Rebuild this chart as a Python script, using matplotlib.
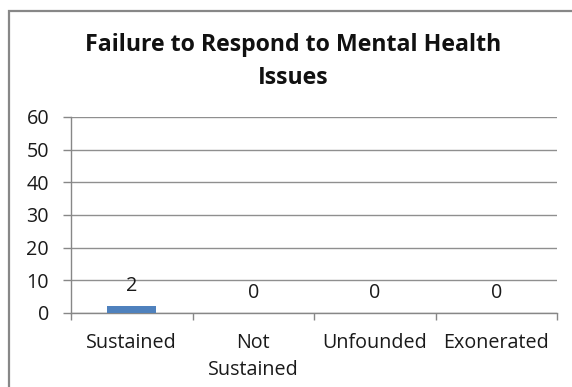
import matplotlib
matplotlib.use("Agg")
import matplotlib.pyplot as plt
from matplotlib.patches import Rectangle
from matplotlib.font_manager import FontProperties

categories = ["Sustained", "Not\nSustained", "Unfounded", "Exonerated"]
values = [2, 0, 0, 0]
yticks = [0, 10, 20, 30, 40, 50, 60]
title = "Failure to Respond to Mental Health\nIssues"

FAM = ['Open Sans', 'DejaVu Sans']
plt.rcParams['font.family'] = FAM
W, H = 572, 387
DPI = 100
fig = plt.figure(figsize=(W/DPI, H/DPI), dpi=DPI)
renderer = fig.canvas.get_renderer()

def fit_size(text, target_px, weight="normal"):
    fp = FontProperties(family=FAM, size=10, weight=weight)
    w, h, d = renderer.get_text_width_height_descent(text, fp, ismath=False)
    return 10 * target_px / w

def spacing_for(size, gap_px, weight="normal"):
    # matplotlib baseline distance = ls * (lp_h - lp_d) + lp_d
    fp = FontProperties(family=FAM, size=size, weight=weight)
    w, h, d = renderer.get_text_width_height_descent("lp", fp, ismath=False)
    return (gap_px - d) / (h - d)

px = 72 / DPI  # points per pixel
lab_fs = fit_size("Sustained", 91)
tit_fs = fit_size("Failure to Respond to Mental Health", 420, "bold")

# chart border
fig.patches.append(Rectangle((9/W, -0.2), 1.2, 1.2 - 11/H, transform=fig.transFigure,
                             fill=False, edgecolor="#878787", linewidth=1.6))

left, right, bottom, top = 71, 557, 313, 117
ax = fig.add_axes([left/W, 1 - bottom/H, (right-left)/W, (bottom-top)/H])
x = list(range(len(categories)))
ax.bar(x, values, width=0.4, color="#4F81BD", zorder=3)
for xi, v in zip(x, values):
    ax.annotate(str(v), (xi, v), xytext=(0, 15*px), textcoords="offset points",
                ha="center", va="baseline", fontsize=lab_fs, color="#1a1a1a")
ax.set_xlim(-0.5, len(categories) - 0.5)
ax.set_ylim(0, 60)
ax.set_yticks(yticks)
ax.set_yticklabels([str(t) for t in yticks], fontsize=lab_fs, color="#1a1a1a")
ax.set_xticks(x)
ax.set_xticklabels(categories, fontsize=lab_fs, color="#1a1a1a",
                   linespacing=spacing_for(lab_fs, 27), va="top")
ax.tick_params(axis="x", length=0, pad=20*px)
ax.set_xticks([i + 0.5 for i in range(-1, len(categories))], minor=True)
ax.tick_params(axis="x", which="minor", length=7*px, width=1, color="#878787",
               direction="out")
ax.tick_params(axis="y", length=8*px, width=1, color="#878787", pad=14*px)
ax.grid(axis="y", color="#8f8f8f", linewidth=1.0, zorder=0)
for s in ["top", "right"]:
    ax.spines[s].set_visible(False)
for s in ["left", "bottom"]:
    ax.spines[s].set_color("#878787")
    ax.spines[s].set_linewidth(1.0)

fig.text(293/W, 1 - 84/H, title, ha="center", va="baseline", fontsize=tit_fs,
         fontweight="bold", color="#111111",
         linespacing=spacing_for(tit_fs, 33, "bold"), multialignment="center")
fig.savefig("out.png", dpi=DPI)
